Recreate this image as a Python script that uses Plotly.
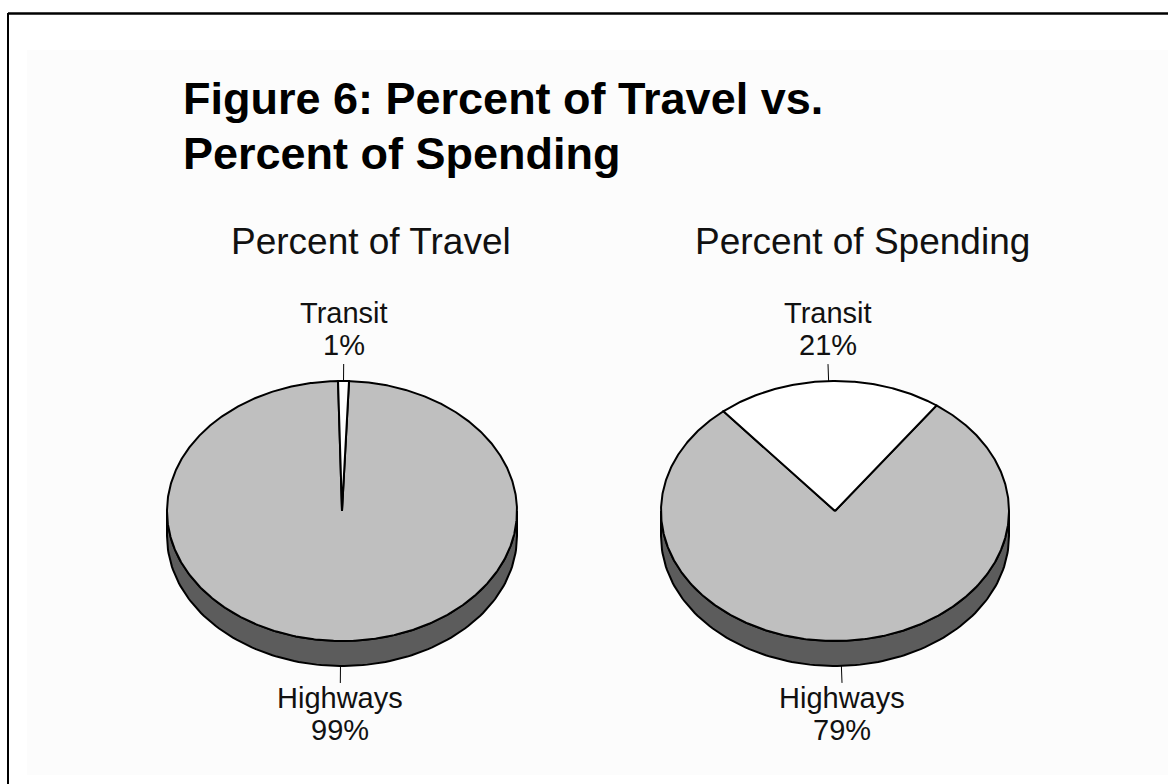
import numpy as np
import plotly.graph_objects as go

# ---------------- data ----------------
categories = ["Highways", "Transit"]
travel_pct = [99, 1]
spending_pct = [79, 21]
pie_titles = ["Percent of Travel", "Percent of Spending"]
title_lines = ["Figure 6: Percent of Travel vs.", "Percent of Spending"]

# ---------------- style / layout ----------------
W, H = 1168, 784
FONT = "Liberation Sans, Arial, sans-serif"
TEXT_COLOR = "#111111"
top_colors = {"Highways": "#bfbfbf", "Transit": "#ffffff"}
side_colors = {"Highways": "#5c5c5c", "Transit": "#a0a0a0"}

pies = [
    dict(values=travel_pct, title=pie_titles[0], cx=342, cy=511, a=175, b=130,
         depth=25, rot=0.5, title_x=229),
    dict(values=spending_pct, title=pie_titles[1], cx=835, cy=511, a=174, b=130,
         depth=25, rot=-2.1, title_x=693),
]

fig = go.Figure()


def pt(p, deg, dz=0.0):
    t = np.radians(deg)
    return p["cx"] + p["a"] * np.sin(t), p["cy"] - p["b"] * np.cos(t) + dz


def poly(xs, ys, fill):
    fig.add_trace(go.Scatter(
        x=list(xs), y=list(ys), mode="lines", fill="toself", fillcolor=fill,
        line=dict(color="black", width=2), hoverinfo="skip", showlegend=False))


annotations = []
shapes = []

for p in pies:
    vals = np.array(p["values"], dtype=float)
    frac = vals / vals.sum()
    # last slice (Transit) centred at the top (+ small rotation)
    start = p["rot"] - (frac[:-1].sum() + frac[-1] / 2) * 360.0
    bounds = []
    acc = start
    for f in frac:
        bounds.append((acc, acc + f * 360.0))
        acc += f * 360.0

    # --- side walls (front half only) ---
    for cat, (t0, t1) in zip(categories, bounds):
        for k in (-360, 0, 360):
            lo = max(t0 + k, 90.0)
            hi = min(t1 + k, 270.0)
            if hi > lo:
                ang = np.linspace(lo, hi, 120)
                xt, yt = pt(p, ang)
                xb, yb = pt(p, ang[::-1], p["depth"])
                poly(np.r_[xt, xb, xt[:1]], np.r_[yt, yb, yt[:1]], side_colors[cat])

    # --- top faces ---
    for cat, (t0, t1) in zip(categories, bounds):
        n = max(int((t1 - t0) * 2), 4)
        ang = np.linspace(t0, t1, n)
        xa, ya = pt(p, ang)
        poly(np.r_[p["cx"], xa, p["cx"]], np.r_[p["cy"], ya, p["cy"]], top_colors[cat])

    # --- leader lines and labels ---
    for cat, v, (t0, t1) in zip(categories, vals, bounds):
        m = (t0 + t1) / 2.0
        back = np.cos(np.radians(m)) >= 0
        ax_, ay_ = pt(p, m, 0 if back else p["depth"])
        dx, dy = np.sin(np.radians(m)), -np.cos(np.radians(m))
        nrm = np.hypot(dx, dy)
        ex, ey = ax_ + dx / nrm * 17, ay_ + dy / nrm * 17
        fig.add_trace(go.Scatter(x=[ax_, ex], y=[ay_, ey], mode="lines",
                                 line=dict(color="black", width=1),
                                 hoverinfo="skip", showlegend=False))
        if back:
            ys = [ey - 51, ey - 19]
        else:
            ys = [ey + 15, ey + 47]
        for txt, yy in zip([cat, f"{int(round(v))}%"], ys):
            annotations.append(dict(
                x=ex, y=yy, xref="x", yref="y", text=txt, showarrow=False,
                xanchor="center", yanchor="middle",
                font=dict(family=FONT, size=29, color=TEXT_COLOR)))

    # pie title
    annotations.append(dict(
        x=p["title_x"], y=241, xref="x", yref="y", text=p["title"], showarrow=False,
        xanchor="left", yanchor="middle",
        font=dict(family=FONT, size=37, color=TEXT_COLOR)))

# main title (two lines)
for txt, yy in zip(title_lines, [98, 153]):
    annotations.append(dict(
        x=181, y=yy, xref="x", yref="y", text=f"<b>{txt}</b>", showarrow=False,
        xanchor="left", yanchor="middle",
        font=dict(family=FONT, size=45, color="#000000")))

# frame and inner background
shapes.append(dict(type="rect", xref="x", yref="y", x0=27, x1=W, y0=50, y1=775,
                   fillcolor="#fcfcfc", line=dict(width=0), layer="below"))
shapes.append(dict(type="line", xref="x", yref="y", x0=8, x1=W + 5, y0=13.5, y1=13.5,
                   line=dict(color="black", width=2.5)))
shapes.append(dict(type="line", xref="x", yref="y", x0=8, x1=8, y0=13, y1=H + 5,
                   line=dict(color="black", width=2)))

fig.update_layout(
    width=W, height=H, margin=dict(l=0, r=0, t=0, b=0),
    paper_bgcolor="white", plot_bgcolor="white",
    xaxis=dict(range=[0, W], visible=False, fixedrange=True),
    yaxis=dict(range=[H, 0], visible=False, fixedrange=True),
    annotations=annotations, shapes=shapes, showlegend=False,
)

fig.write_html("out.html")
